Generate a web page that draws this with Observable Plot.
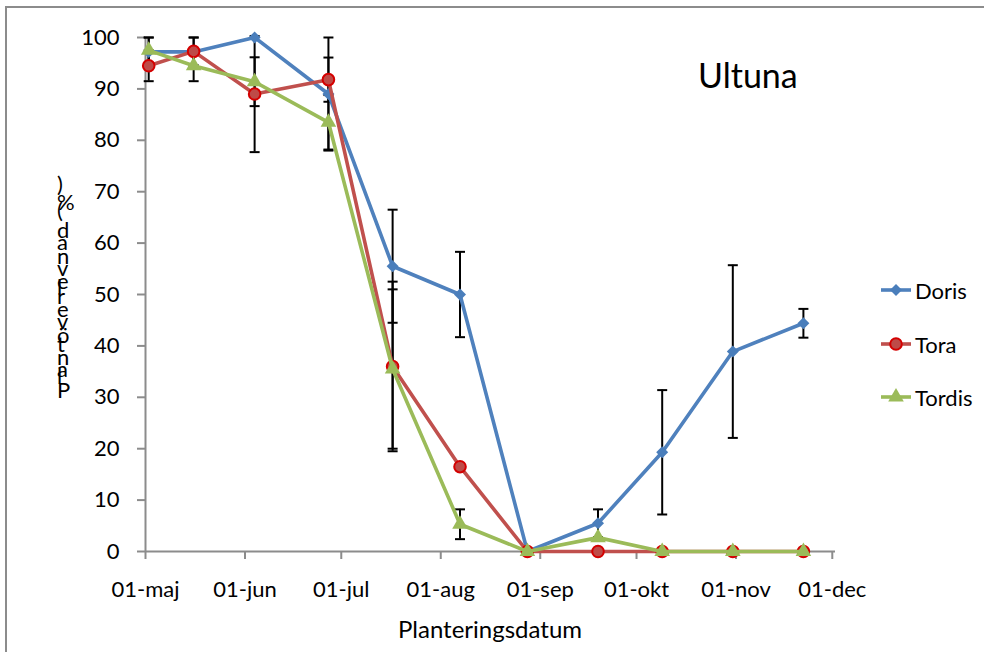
<!DOCTYPE html>
<html>
<head>
<meta charset="utf-8">
<script src="https://cdn.jsdelivr.net/npm/d3@7"></script>
<script src="https://cdn.jsdelivr.net/npm/@observablehq/plot@0.6"></script>
<style>
  html, body { margin: 0; padding: 0; background: #fff; }
  body { width: 984px; height: 652px; position: relative; overflow: hidden; font-family: Lato, "Open Sans", sans-serif; }
  #chart { position: absolute; left: 0; top: 0; }
  .border { position: absolute; left: 5px; top: 6px; width: 1100px; height: 800px; border-top: 2px solid #8c8c8c; border-left: 2px solid #8c8c8c; }
  .title { position: absolute; left: 698px; top: 58px; font-size: 34px; line-height: 1; color: #000; }
  .xlabel { position: absolute; left: 145px; width: 690px; top: 617px; text-align: center; font-size: 24px; line-height: 1; color: #000; }
  #ylabel { position: absolute; left: 0; top: 0; pointer-events: none; }
  .legend { position: absolute; left: 880px; top: 0; }
  .legend .item { position: absolute; left: 0; display: flex; align-items: center; white-space: nowrap; font-size: 22px; color: #000; }
  .legend svg { display: block; margin-right: 3px; }
</style>
</head>
<body>
<div class="border"></div>
<div id="chart"></div>
<div class="title">Ultuna</div>
<div class="xlabel">Planteringsdatum</div>
<svg id="ylabel" width="984" height="652"></svg>
<div class="legend" id="legend"></div>
<script>
// ---- data ----
const dates = ["2011-05-02","2011-05-16","2011-06-04","2011-06-27","2011-07-17","2011-08-07","2011-08-28","2011-09-19","2011-10-09","2011-10-31","2011-11-22"];
const seriesNames = ["Doris", "Tora", "Tordis"];
const dorisValues  = [97.2, 97.2, 100, 89, 55.5, 50, 0, 5.5, 19.3, 38.9, 44.4];
const dorisErr     = [2.8, 2.8, 0, 11, 11, 8.3, 0, 2.7, 12.1, 16.8, 2.8];
const toraValues   = [94.5, 97.3, 89, 91.8, 36, 16.5, 0, 0, 0, 0, 0];
const toraErr      = [3, 2.7, 11.3, 4.3, 16.5, 0, 0, 0, 0, 0, 0];
const tordisValues = [97.5, 94.5, 91.4, 83.5, 35.5, 5.3, 0, 2.7, 0, 0, 0];
const tordisErr    = [2.5, 3, 4.75, 5.3, 15.5, 2.9, 0, 0, 0, 0, 0];
const xTickLabels = ["01-maj", "01-jun", "01-jul", "01-aug", "01-sep", "01-okt", "01-nov", "01-dec"];
const yTicks = [0, 10, 20, 30, 40, 50, 60, 70, 80, 90, 100];
const yLabelText = "Plantöverlevnad (%)";

// ---- build table ----
const valuesBySeries = [dorisValues, toraValues, tordisValues];
const errBySeries = [dorisErr, toraErr, tordisErr];
const rows = [];
seriesNames.forEach((s, k) => {
  dates.forEach((d, i) => {
    const v = valuesBySeries[k][i], e = errBySeries[k][i];
    rows.push({series: s, date: new Date(d + "T00:00:00Z"), value: v, lo: v - e, hi: v + e, err: e});
  });
});
const errRows = rows.filter(r => r.err > 0);

const xStart = new Date("2011-05-01T00:00:00Z");
const xEnd = new Date("2011-12-02T00:00:00Z");
const monthTicks = d3.utcMonth.range(xStart, new Date("2011-12-02T00:00:00Z"));

const styleOf = {
  Doris:  {line: "#4F81BD", fill: "#4A7EBB", stroke: "#4A7EBB", symbol: "diamond2", r: 5.4, sw: 0},
  Tora:   {line: "#C0504D", fill: "#BE4B48", stroke: "#D40000", symbol: "circle", r: 5.8, sw: 2},
  Tordis: {line: "#9BBB59", fill: "#9BBB59", stroke: "#9BBB59", symbol: "triangle", r: 5.8, sw: 0}
};

const capSymbol = {
  draw(context, size) {
    const w = Math.sqrt(size / Math.PI);
    context.moveTo(-w, 0);
    context.lineTo(w, 0);
  }
};

const seriesMarks = seriesNames.flatMap(s => {
  const st = styleOf[s];
  const data = rows.filter(r => r.series === s);
  return [
    Plot.line(data, {x: "date", y: "value", stroke: st.line, strokeWidth: 3.6}),
    Plot.dot(data, {x: "date", y: "value", symbol: st.symbol, r: st.r, fill: st.fill, stroke: st.stroke, strokeWidth: st.sw})
  ];
});

const chart = Plot.plot({
  width: 984,
  height: 652,
  marginLeft: 145,
  marginRight: 149,
  marginTop: 37,
  marginBottom: 101,
  style: {fontFamily: "Lato, 'Open Sans', sans-serif", fontSize: "22px", color: "#000", background: "transparent", overflow: "visible"},
  x: {type: "utc", domain: [xStart, xEnd]},
  y: {domain: [0, 100]},
  marks: [
    Plot.ruleY([0], {stroke: "#8c8c8c", strokeWidth: 2}),
    Plot.ruleX([xStart], {y1: 0, y2: 100, stroke: "#8c8c8c", strokeWidth: 2}),
    Plot.axisY({ticks: yTicks, tickSize: 8, tickPadding: 18, stroke: "#8c8c8c", strokeWidth: 2, fill: "#000", label: null, fontSize: 22}),
    Plot.axisX({ticks: monthTicks, tickFormat: d => xTickLabels[d.getUTCMonth() - 4], tickSize: 8, tickPadding: 22, stroke: "#8c8c8c", strokeWidth: 2, fill: "#000", label: null, fontSize: 22}),
    Plot.ruleX(errRows, {x: "date", y1: "lo", y2: "hi", stroke: "#000", strokeWidth: 2}),
    Plot.dot(errRows, {x: "date", y: "lo", symbol: capSymbol, r: 5, stroke: "#000", strokeWidth: 2, fill: "none"}),
    Plot.dot(errRows, {x: "date", y: "hi", symbol: capSymbol, r: 5, stroke: "#000", strokeWidth: 2, fill: "none"}),
    ...seriesMarks
  ]
});
document.getElementById("chart").appendChild(chart);

// ---- y-axis title: upright glyphs stacked bottom-to-top (as in the reference) ----
const ysvg = d3.select("#ylabel");
const ytext = ysvg.append("text")
  .attr("transform", "translate(57,398) rotate(-90)")
  .attr("font-family", "Lato, 'Open Sans', sans-serif")
  .attr("font-size", 22)
  .attr("letter-spacing", 1.2)
  .attr("fill", "#000")
  .text(yLabelText);
ytext.attr("rotate", Array.from(yLabelText).map(() => 90).join(" "));

// ---- legend ----
const legend = document.getElementById("legend");
const legendTops = [276, 330, 383];
seriesNames.forEach((s, k) => {
  const st = styleOf[s];
  const item = document.createElement("div");
  item.className = "item";
  item.style.top = legendTops[k] + "px";
  const sym = d3.symbol(s === "Doris" ? d3.symbolDiamond2 : s === "Tora" ? d3.symbolCircle : d3.symbolTriangle, Math.PI * st.r * st.r)();
  item.innerHTML = `<svg width="32" height="28" viewBox="-16 -14 32 28">
    <line x1="-15" x2="15" y1="0" y2="0" stroke="${st.line}" stroke-width="3.6"/>
    <path d="${sym}" fill="${st.fill}" stroke="${st.stroke}" stroke-width="${st.sw}"/>
  </svg><span>${s}</span>`;
  legend.appendChild(item);
});
</script>
</body>
</html>
